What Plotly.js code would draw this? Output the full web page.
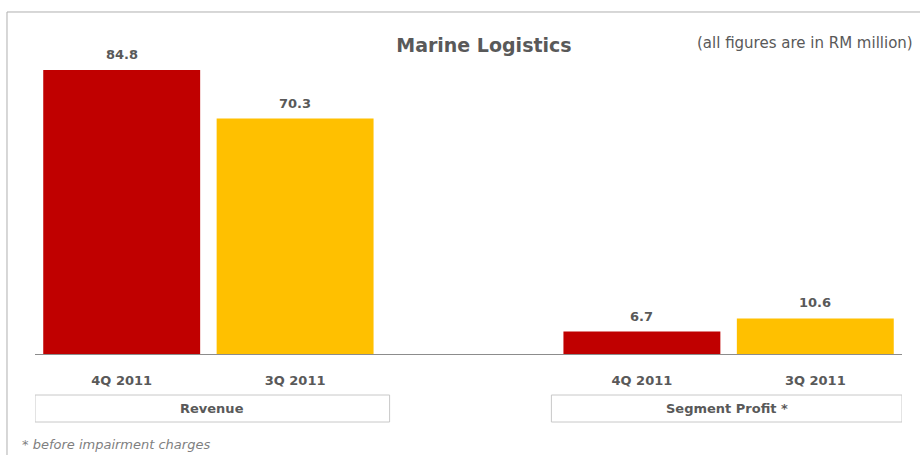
<!DOCTYPE html>
<html><head><meta charset="utf-8">
<script src="https://cdn.plot.ly/plotly-3.0.1.min.js"></script>
<style>html,body{margin:0;padding:0;background:#fff}#chart{width:920px;height:455px}</style>
</head><body><div id="chart"></div>
<script>
const segments = ['Revenue', 'Segment Profit *'];
const periods = ['4Q 2011', '3Q 2011'];
const q4Values = [84.8, 6.7];
const q3Values = [70.3, 10.6];
const seriesColors = ['#C00000', '#FFC000'];

const txt = '#595959';
const font = 'DejaVu Sans, Verdana, sans-serif';
const series = [q4Values, q3Values];
const traces = [];
const annotations = [];
const tickvals = [], ticktext = [];
series.forEach((vals, j) => {
  const xs = vals.map((v, i) => i * 3 + j);
  traces.push({type: 'bar', x: xs, y: vals, width: 0.905, name: periods[j],
    marker: {color: seriesColors[j], line: {width: 0}}, hoverinfo: 'skip'});
  vals.forEach((v, i) => {
    annotations.push({x: xs[i], y: v, xref: 'x', yref: 'y', text: '<b>' + v.toFixed(1) + '</b>',
      showarrow: false, yanchor: 'bottom', yshift: 6, font: {family: font, size: 13, color: txt}});
  });
});
segments.forEach((s, i) => periods.forEach((p, j) => { tickvals.push(i * 3 + j); ticktext.push('<b>' + p + '</b>'); }));

const shapes = [
  {type: 'rect', xref: 'paper', yref: 'paper', x0: -0.0323, x1: 1.03, y0: 1.0209, y1: -0.33,
   line: {color: '#b0b0b0', width: 1}, fillcolor: 'rgba(0,0,0,0)', layer: 'below'}
];
const boxes = [[-0.5, 1.545], [2.478, 4.5]];
segments.forEach((s, i) => {
  shapes.push({type: 'rect', xref: 'x', yref: 'paper', x0: boxes[i][0], x1: boxes[i][1], y0: -0.1224, y1: -0.203,
    line: {color: '#c8c8c8', width: 1}, fillcolor: 'rgba(0,0,0,0)'});
  annotations.push({xref: 'x', yref: 'paper', x: (boxes[i][0] + boxes[i][1]) / 2, y: -0.1627,
    text: '<b>' + s + '</b>', showarrow: false, xanchor: 'center', yanchor: 'middle',
    font: {family: font, size: 13, color: txt}});
});
annotations.push({xref: 'paper', yref: 'paper', x: 1.015, y: 0.928, xanchor: 'right', yanchor: 'middle',
  text: '(all figures are in RM million)', showarrow: false, font: {family: font, size: 15, color: txt}});
annotations.push({xref: 'paper', yref: 'paper', x: -0.0173, y: -0.2687, xanchor: 'left', yanchor: 'middle',
  text: '<i>* before impairment charges</i>', showarrow: false, font: {family: font, size: 13, color: '#7f7f7f'}});

const layout = {
  width: 920, height: 455, margin: {l: 35, r: 18, t: 19, b: 101},
  paper_bgcolor: '#fff', plot_bgcolor: '#fff', showlegend: false, barmode: 'overlay',
  title: {text: '<b>Marine Logistics</b>', xref: 'container', yref: 'container', x: 0.526, y: 0.901,
    xanchor: 'center', yanchor: 'middle', font: {family: font, size: 19, color: txt}},
  xaxis: {range: [-0.5, 4.5], tickvals: tickvals, ticktext: ticktext, showline: true, linecolor: '#8c8c8c',
    linewidth: 1, showgrid: false, zeroline: false, ticks: '', ticklabelstandoff: 14,
    tickfont: {family: font, size: 13, color: txt}, fixedrange: true},
  yaxis: {range: [0, 100], visible: false, showgrid: false, zeroline: false, fixedrange: true},
  shapes: shapes, annotations: annotations
};
Plotly.newPlot('chart', traces, layout, {displayModeBar: false, staticPlot: true});
</script></body></html>
